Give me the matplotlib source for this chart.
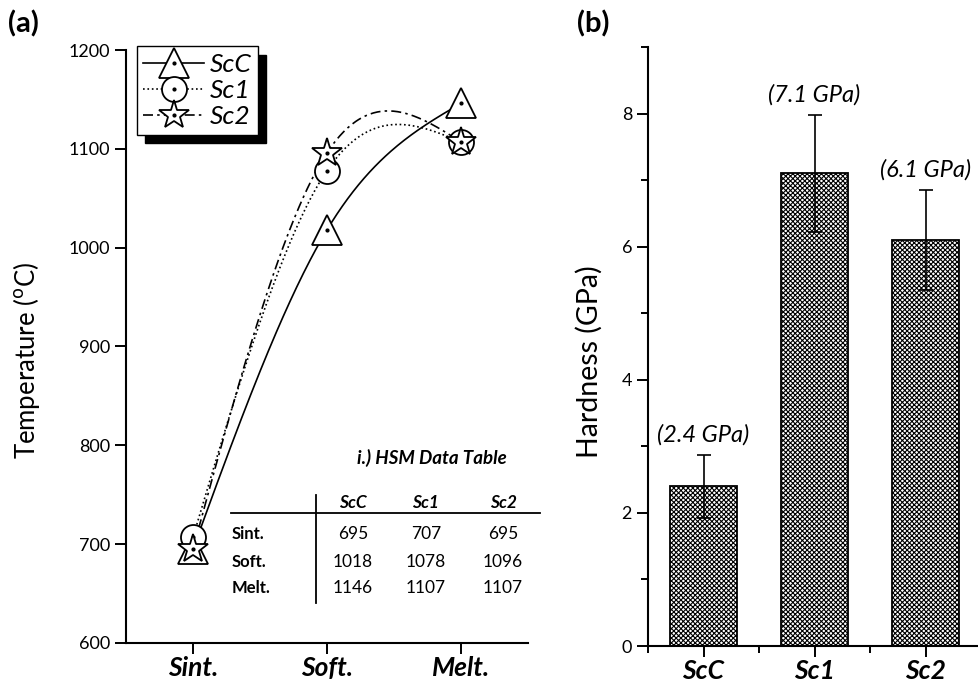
import matplotlib
matplotlib.use('Agg')
import matplotlib.pyplot as plt
from matplotlib.ticker import MultipleLocator
import numpy as np

plt.rcParams['font.family'] = ['Lato', 'DejaVu Sans']
plt.rcParams['hatch.linewidth'] = 0.8

# HSM data (panel a)
stages = ['Sint.', 'Soft.', 'Melt.']
samples = ['ScC', 'Sc1', 'Sc2']
temp_scc = [695, 1018, 1146]
temp_sc1 = [707, 1078, 1107]
temp_sc2 = [695, 1096, 1107]

# hardness data (panel b)
hardness = [2.4, 7.1, 6.1]
hardness_err = [0.47, 0.88, 0.75]
hardness_txt = ['(2.4 GPa)', '(7.1 GPa)', '(6.1 GPa)']


def natural_spline(y, n=200):
    # natural cubic spline through equally spaced points (like Origin's spline connect)
    y = np.asarray(y, dtype=float)
    k = len(y)
    A = np.zeros((k, k))
    r = np.zeros(k)
    A[0, 0] = A[-1, -1] = 1
    for i in range(1, k - 1):
        A[i, i - 1:i + 2] = [1, 4, 1]
        r[i] = 6 * (y[i - 1] - 2 * y[i] + y[i + 1])
    M = np.linalg.solve(A, r)
    xs = np.linspace(0, k - 1, n)
    ys = np.empty_like(xs)
    for j, x in enumerate(xs):
        i = min(int(x), k - 2)
        t = x - i
        ys[j] = (M[i] * (1 - t) ** 3 / 6 + M[i + 1] * t ** 3 / 6
                 + (y[i] - M[i] / 6) * (1 - t) + (y[i + 1] - M[i + 1] / 6) * t)
    return xs, ys


fig = plt.figure(figsize=(9.79, 6.86), dpi=100)
ax1 = fig.add_axes([0.1287, 0.0627, 0.4106, 0.8644])
ax2 = fig.add_axes([0.6619, 0.0583, 0.3402, 0.8732])

# ---- panel (a)
x = np.arange(len(stages))
dashdot = (0, (6, 2.5, 1.5, 2.5))
series = [(temp_scc, '-', '^', 21, 'ScC'),
          (temp_sc1, ':', 'o', 18, 'Sc1'),
          (temp_sc2, dashdot, '*', 22, 'Sc2')]
handles = []
for i, (vals, ls, mk, ms, lab) in enumerate(series):
    xs, ys = natural_spline(vals)
    ax1.plot(xs, ys, color='black', linestyle=ls, linewidth=1.2, zorder=2)
    ax1.plot(x, vals, linestyle='none', marker=mk, markersize=ms,
             markerfacecolor='white', markeredgecolor='black', markeredgewidth=1.3,
             zorder=3 + i)
    ax1.plot(x, vals, linestyle='none', marker='o', markersize=2, color='black', zorder=3 + i)
    leg_ln, = ax1.plot([], [], linestyle=ls, color='black', linewidth=1.2, marker=mk, markersize=ms,
                       markerfacecolor='white', markeredgecolor='black', markeredgewidth=1.3)
    leg_dot, = ax1.plot([], [], linestyle='none', marker='o', markersize=2, color='black')
    handles.append((leg_ln, leg_dot))

leg = ax1.legend(handles, samples, loc='upper left', bbox_to_anchor=(0.027, 1.006),
                 borderaxespad=0, handlelength=2.3, handletextpad=0.2,
                 labelspacing=0.12, borderpad=0.25, fancybox=False, framealpha=1,
                 edgecolor='black', prop={'style': 'italic', 'size': 19},
                 shadow={'color': 'black', 'ox': 6, 'oy': -6, 'alpha': 1})
leg.get_frame().set_linewidth(1.0)

ax1.set_xlim(-0.5, 2.5)
ax1.set_ylim(600, 1200)
ax1.set_xticks(x)
ax1.set_xticklabels(stages, fontweight='bold', fontstyle='italic')
ax1.yaxis.set_major_locator(MultipleLocator(100))
ax1.set_ylabel('Temperature ($^{\\mathrm{o}}$C)', fontsize=18.5)
ax1.yaxis.set_label_coords(-0.209, 0.476)

# data table inside panel (a)
tr = ax1.transAxes
ax1.text(0.761, 0.312, 'i.) HSM Data Table', transform=tr, ha='center', va='center',
         fontsize=13.5, fontweight='bold', fontstyle='italic')
col_x = [0.565, 0.746, 0.938]
row_y = [0.184, 0.137, 0.093]
for cx, name in zip(col_x, samples):
    ax1.text(cx, 0.236, name, transform=tr, ha='center', va='center',
             fontsize=12.5, fontweight='bold', fontstyle='italic')
for ry, st, a, b, c in zip(row_y, stages, temp_scc, temp_sc1, temp_sc2):
    ax1.text(0.262, ry, st, transform=tr, ha='left', va='center', fontsize=12, fontweight='bold')
    for cx, v in zip(col_x, (a, b, c)):
        ax1.text(cx, ry, str(v), transform=tr, ha='center', va='center', fontsize=12.5)
ax1.plot([0.262, 1.03], [0.219, 0.219], transform=tr, color='black', linewidth=1.3, clip_on=False)
ax1.plot([0.473, 0.473], [0.25, 0.067], transform=tr, color='black', linewidth=1.3)

# ---- panel (b)
xb = np.arange(len(samples))
ax2.bar(xb, hardness, width=0.6, color='white', edgecolor='black', linewidth=1.3,
        hatch='xxxxxxx', zorder=2)
ax2.errorbar(xb, hardness, yerr=hardness_err, fmt='none', ecolor='black', elinewidth=1.2,
             capsize=5, capthick=1.2, zorder=3)
for xi, h, e, t in zip(xb, hardness, hardness_err, hardness_txt):
    ax2.annotate(t, (xi, h + e), xytext=(0, 7), textcoords='offset points', ha='center',
                 va='bottom', fontsize=17, fontstyle='italic')
ax2.set_xlim(-0.5, 2.5)
ax2.set_ylim(0, 9)
ax2.set_xticks(xb)
ax2.set_xticklabels(samples, fontweight='bold', fontstyle='italic')
ax2.xaxis.set_minor_locator(MultipleLocator(1, offset=0.5))
ax2.yaxis.set_major_locator(MultipleLocator(2))
ax2.yaxis.set_minor_locator(MultipleLocator(1))
ax2.set_ylabel('Hardness (GPa)', fontsize=20.5)
ax2.yaxis.set_label_coords(-0.135, 0.474)

for ax in (ax1, ax2):
    for s in ('top', 'right'):
        ax.spines[s].set_visible(False)
    for s in ('left', 'bottom'):
        ax.spines[s].set_linewidth(1.5)
    ax.tick_params(which='major', direction='out', length=8, width=1.4, labelsize=13)
    ax.tick_params(which='minor', direction='out', length=5, width=1.4)
    ax.tick_params(axis='x', which='major', labelsize=19, pad=1.5)

fig.text(0.008, 0.952, '(a)', fontsize=21, fontweight='bold', va='baseline')
fig.text(0.589, 0.952, '(b)', fontsize=21, fontweight='bold', va='baseline')

plt.savefig('out.png', dpi=100)
plt.close()
